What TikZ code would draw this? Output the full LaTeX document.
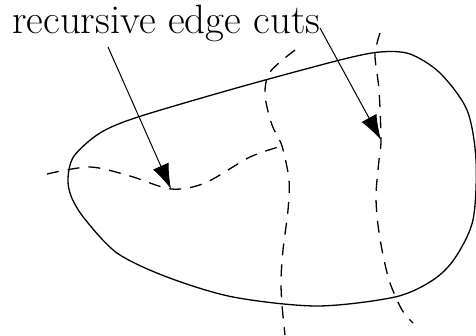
\documentclass[tikz,border=0pt]{standalone}
\usepackage{fontspec}
\usetikzlibrary{arrows.meta, positioning}

\begin{document}
\begin{tikzpicture}[
  x=1pt, y=-1pt,
  outline/.style={draw=black, line width=1.3pt},
  cutline/.style={draw=black, line width=1.3pt, dash pattern=on 12pt off 9pt},
  pointer/.style={draw=black, line width=1pt, -{Latex[length=25pt, width=17pt]}}
]
  \useasboundingbox (0,0) rectangle (476,335);

  \node [anchor=base west, inner sep=0pt, font=\fontsize{41}{49}\selectfont] (label) at (12,33) {recursive edge cuts};

  \coordinate (startleft) at (108,47);
  \coordinate (startright) at (320,28);
  \coordinate (tipleft) at (171,189);
  \coordinate (tipright) at (381,140);
  \coordinate (junction) at (282,146);

  % region boundary
  \draw [outline] plot [smooth cycle] coordinates {(68,178) (74,156) (100,133) (138,117) (240,87) (340,60) (380,52) (410,54) (440,73) (467,110) (476,160) (473,220) (455,258) (433,280) (395,297) (317,306) (233,297) (167,277) (117,253) (84,218) (71,196)};

  % cuts
  \draw [cutline] plot [smooth] coordinates {(47,174) (90,167) (130,176) (tipleft) (205,183) (250,157) (junction)};
  \draw [cutline] plot [smooth] coordinates {(295,50) (270,72) (265,95) (272,125) (junction) (289,180) (288,210) (283,250) (281,280) (282,305) (285,335)};
  \draw [cutline] plot [smooth] coordinates {(380,33) (375,55) (379,90) (tipright) (379,160) (376,195) (378,225) (383,255) (390,283) (402,310) (413,323)};

  \draw [pointer] (startleft) -- (tipleft);
  \draw [pointer] (startright) -- (tipright);
\end{tikzpicture}
\end{document}
